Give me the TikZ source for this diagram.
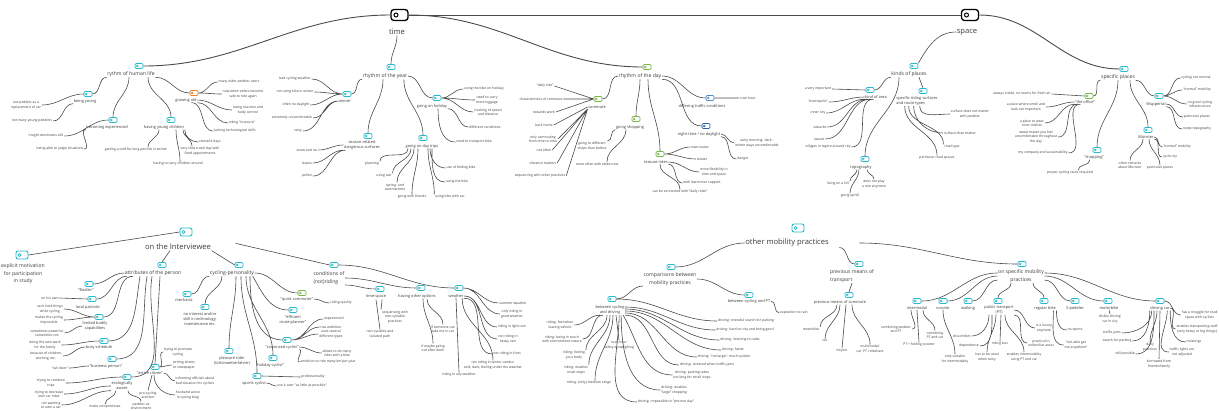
\documentclass[tikz,border=0pt]{standalone}
\usepackage{fontspec}
\setmainfont{Open Sans}
\definecolor{tcyan}{HTML}{27B9CD}
\definecolor{tgreen}{HTML}{7AB648}
\definecolor{torange}{HTML}{E9822F}
\definecolor{tblue}{HTML}{4E8AC6}
\definecolor{tnavy}{HTML}{2C64A8}
\definecolor{linkc}{HTML}{4A4A4A}
\definecolor{txt}{HTML}{3C3C3C}
\tikzset{
  main/.style={font=\fontsize{7.6}{9}\selectfont, text=txt, inner sep=0.5pt},
  topic/.style={font=\fontsize{5.1}{7.5}\selectfont, text=txt, align=center, inner sep=0.5pt},
  sub/.style={font=\fontsize{3.9}{5}\selectfont, text=txt, align=center, inner sep=0.5pt},
  leaf/.style={font=\fontsize{3.4}{4.4}\selectfont, text=txt, align=center, inner sep=0.8pt},
  tag/.style={draw=#1, fill=white, line width=0.7pt, rounded corners=1.2pt, minimum width=8pt, minimum height=5pt, inner sep=0pt,
    path picture={\draw[#1, line width=0.5pt] ([xshift=2.3pt]path picture bounding box.west) circle (1pt);}},
  tag/.default=tcyan,
  bigtag/.style={draw=tcyan, fill=white, line width=0.9pt, rounded corners=2pt, minimum width=12pt, minimum height=8pt, inner sep=0pt,
    path picture={\draw[tcyan, line width=0.6pt] ([xshift=3.6pt]path picture bounding box.west) circle (1.5pt);}},
  toptag/.style={draw=black, fill=white, line width=1.3pt, rounded corners=3pt, minimum width=17pt, minimum height=11pt, inner sep=0pt,
    path picture={\draw[black, line width=1pt] ([xshift=5pt]path picture bounding box.west) circle (2pt);}},
  link/.style={draw=linkc, line width=0.6pt},
  trunk/.style={draw=linkc, line width=0.9pt},
  hl/.style={out=180, in=0},
  hr/.style={out=0, in=180},
  vd/.style={out=-90, in=90},
  dl/.style={out=-90, in=0},
  dr/.style={out=-90, in=180}
}
\begin{document}
\begin{tikzpicture}[x=1pt,y=1pt]
\useasboundingbox[fill=white] (0,0) rectangle (1219,-410);

% time and space
\node[toptag] (time) at (399.5,-15) {};
\node[main] (timel) at (397,-32) {time};
\node[toptag] (space) at (970,-15) {};
\node[main] (spacel) at (967,-32) {space};
\draw[trunk] (time.east) -- (space.west);

% rythm of human life
\node[tag] (hum) at (139,-66) {};
\node[topic] (huml) at (131,-74) {rythm of human life};
\node[tag] (young) at (88,-94) {};
\node[sub] (youngl) at (85,-101) {being young};
\node[leaf] (ya) at (26,-105) {use pedelec as a\\replacement of car};
\node[leaf] (yb) at (32,-121) {not many young pedelers};
\node[tag] (exper) at (113,-120) {};
\node[sub] (experl) at (107,-127) {becoming experienced};
\node[leaf] (ea) at (46,-136) {insight dominates still};
\node[leaf] (eb) at (60,-149) {being able to judge situations};
\node[tag] (kids) at (171,-120) {};
\node[sub] (kidsl) at (164,-127) {having young children};
\node[leaf] (ka) at (136,-150) {getting a cold for long periods in winter};
\node[leaf] (kb) at (178,-164) {having to carry children around};
\node[leaf] (kc) at (200,-151) {very slow travel day with\\fixed appointments};
\node[leaf] (kd) at (210,-142) {stressful days};
\node[tag=torange] (old) at (194,-93) {};
\node[sub] (oldl) at (186,-100) {growing old};
\node[leaf] (oa) at (239,-82) {many older pedelec users};
\node[leaf] (ob) at (243,-94) {now when elders become\\safe to ride again};
\node[leaf] (oc) at (248,-110) {losing reaction and\\body control};
\node[leaf] (od) at (242,-123) {riding "insecure"};
\node[leaf] (oe) at (235,-131) {lacking technological skills};
\draw[trunk] (time.west) to[hl] (hum.east);
\draw[link] (huml.south west) to[hl] (young.east)
  ([xshift=-2pt]huml.south) to[vd] (exper.north)
  ([xshift=17pt]huml.south) to[vd] (kids.north)
  (huml.south east) to[hr] (old.west);
\draw[link] (young.west) to[hl] (ya.east) (youngl.south west) to[hl] (yb.east)
  (exper.west) to[hl] (ea.east) (experl.south west) to[hl] (eb.east)
  ([xshift=-5pt]kidsl.south) to[vd] ([xshift=12pt]ka.north)
  ([xshift=12pt]kidsl.south) to[vd] ([xshift=2pt]kb.north)
  ([xshift=19pt]kidsl.south) to[vd] ([xshift=-8pt]kc.north)
  (kidsl.south east) to[dr] (kd.west);
\draw[link] (old.east) to[hr] (oa.west) (old.east) to[hr] (ob.west)
  (oldl.east) to[hr] (oc.west) (oldl.south east) to[hr] (od.west)
  ([xshift=-6pt]oldl.south east) to[hr] (oe.west);

% rhythm of the year
\node[tag] (year) at (391,-67) {};
\node[topic] (yearl) at (385,-76) {rhythm of the year};
\node[tag] (winter) at (347,-94) {};
\node[sub] (winterl) at (345,-101) {winter};
\node[leaf] (wa) at (295,-79) {bad cycling weather};
\node[leaf] (wb) at (295,-92) {not using bike in winter};
\node[leaf] (wc) at (296,-105) {often no daylight};
\node[leaf] (wd) at (292,-118) {extremely uncomfortable};
\node[leaf] (we) at (298,-131) {rainy};
\node[tag] (season) at (368,-136) {};
\node[sub] (seasonl) at (362,-145) {season-related\\dangerous surfaces};
\node[leaf] (sa) at (307,-150) {snow and ice};
\node[leaf] (sb) at (307,-163) {leaves};
\node[leaf] (sc) at (307,-176) {pollen};
\node[tag] (trips) at (423,-138) {};
\node[sub] (tripsl) at (422,-146) {going on day trips};
\node[leaf] (ta) at (372,-164) {planning};
\node[leaf] (tb) at (384,-176) {using taxi};
\node[leaf] (tc) at (395,-187) {spring- and\\summertime};
\node[leaf] (td) at (412,-197) {going with friends};
\node[leaf] (te) at (461,-168) {use of folding bike};
\node[leaf] (tf) at (457,-182) {using the bike};
\node[leaf] (tg) at (450,-197) {using bike with car};
\node[tag] (holi) at (437,-98) {};
\node[sub] (holil) at (432,-106) {going on holiday};
\node[leaf] (ha) at (484,-89) {using the bike on holiday};
\node[leaf] (hb) at (487,-100) {need to carry\\more luggage};
\node[leaf] (hc) at (488,-112) {tracking of speed\\and distance};
\node[leaf] (hd) at (485,-127) {different conditions};
\node[leaf] (he) at (474,-142) {need to transport bike};
\draw[link] (timel.south) to[vd] (year.north);
\draw[link] (yearl.south west) to[hl] (winter.east)
  ([xshift=-2pt]yearl.south) to[vd] (season.north)
  ([xshift=-4pt]yearl.south east) to[vd] (trips.north)
  (yearl.east) to[hr] (holi.west);
\draw[link] (winter.west) to[hl] (wa.east) (winter.west) to[hl] (wb.east)
  (winter.west) to[hl] (wc.east) (winterl.west) to[hl] (wd.east) (winterl.west) to[hl] (we.east);
\draw[link] (seasonl.west) to[hl] (sa.east) (seasonl.south west) to[hl] (sb.east)
  ([xshift=2pt]seasonl.south west) to[hl] (sc.east);
\draw[link] ([xshift=-14pt]tripsl.south) to[vd] (ta.north east)
  ([xshift=-11pt]tripsl.south) to[vd] (tb.north east)
  ([xshift=-8pt]tripsl.south) to[vd] ([xshift=2pt]tc.north)
  ([xshift=-4pt]tripsl.south) to[vd] (td.north)
  ([xshift=8pt]tripsl.south) to[dr] (te.west)
  ([xshift=10pt]tripsl.south) to[dr] (tf.west)
  ([xshift=6pt]tripsl.south) to[vd] (tg.north west);
\draw[link] (holi.east) to[hr] (ha.west) (holi.east) to[hr] (hb.west)
  (holi.east) to[hr] (hc.west) (holil.south east) to[hr] (hd.west)
  ([xshift=6pt]holil.south) to[dr] (he.west);

% rhythm of the day
\node[tag=tgreen] (day) at (647,-67) {};
\node[topic] (dayl) at (640,-76) {rhythm of the day};
\node[tag=tgreen] (comm) at (598,-99) {};
\node[sub] (comml) at (597,-107) {commute};
\node[leaf] (ma) at (545,-86) {"daily ride"};
\node[leaf] (mb) at (541,-99) {characteristics of commute};
\node[leaf] (mc) at (544,-112) {towards work};
\node[leaf] (md) at (544,-125) {back home};
\node[leaf] (me) at (543,-139) {only commuting\\from time to time};
\node[leaf] (mf) at (544,-150) {not often};
\node[leaf] (mg) at (543,-163) {distance matters};
\node[leaf] (mh) at (540,-176) {sequencing with other practices};
\node[tag=tgreen] (shop) at (636,-119) {};
\node[sub] (shopl) at (630,-127) {going shopping};
\node[leaf] (pa) at (592,-146) {going to different\\shops than before};
\node[leaf] (pb) at (597,-164) {more often with ebike now};
\node[tag=tgreen] (leis) at (660,-154) {};
\node[sub] (leisl) at (656,-162) {leasure rides};
\node[leaf] (la) at (700,-147) {new routes};
\node[leaf] (lb) at (702,-159) {slower};
\node[leaf] (lc) at (714,-172) {more flexibility in\\time and space};
\node[leaf] (ld) at (702,-183) {with low motor support};
\node[leaf] (le) at (680,-192) {can be connected with "daily rides"};
\node[tag=tblue] (traf) at (710,-98) {};
\node[sub] (trafl) at (702,-106) {differing traffic conditions};
\node[leaf] (tra) at (748,-98) {rush hour};
\node[tag=tnavy] (night) at (706,-126) {};
\node[sub] (nightl) at (699,-134) {night-time / no daylight};
\node[leaf] (na) at (757,-143) {early morning: dark -\\winter ways uncomfortable};
\node[leaf] (nb) at (743,-159) {danger};
\draw[trunk] (time.east) to[hr] (day.west);
\draw[link] (dayl.west) to[hl] (comm.east)
  (dayl.south) to[vd] (shop.north)
  ([xshift=8pt]dayl.south) to[vd] (leis.north)
  (dayl.south east) to[hr] (night.west)
  (dayl.east) to[hr] (traf.west);
\draw[link] (comm.west) -- (ma.east) (comm.west) -- (mb.east) (comm.west) -- (mc.east)
  (comml.west) -- (md.east) (comml.south west) -- (me.east) (comml.south west) -- (mf.east)
  (comml.south west) -- (mg.east) (comml.south west) -- (mh.east);
\draw[link] (shopl.south west) to[hl] (pa.north east)
  ([xshift=-4pt]shopl.south) to[vd] ([xshift=10pt]pb.north);
\draw[link] (leis.east) to[hr] (la.west) (leis.east) to[hr] (lb.west)
  (leisl.east) to[hr] (lc.west) (leisl.south east) to[hr] (ld.west)
  ([xshift=4pt]leisl.south) to[vd] (le.north);
\draw[link] (traf.east) -- (tra.west)
  (nightl.east) to[hr] (na.west) (nightl.south east) to[hr] (nb.west);

% space: kinds of places
\node[tag] (kinds) at (914,-66) {};
\node[topic] (kindsl) at (909,-74) {kinds of places};
\node[tag] (area) at (870,-90) {};
\node[sub] (areal) at (876,-97) {kind of area};
\node[leaf] (aa) at (818,-89) {a very important};
\node[leaf] (ab) at (818,-102) {"metropolis"};
\node[leaf] (ac) at (818,-113) {inner city};
\node[leaf] (ad) at (820,-127) {suburbs};
\node[leaf] (ae) at (819,-139) {nature};
\node[leaf] (af) at (828,-147) {villages in region around city};
\node[tag] (route) at (923,-91) {};
\node[sub,align=left] (routel) at (917,-101) {specific riding surfaces\\and route types};
\node[leaf] (rta) at (970,-114) {surface does not matter\\with pedelec};
\node[leaf] (rtb) at (960,-133) {surface does matter};
\node[leaf] (rtc) at (952,-147) {road type};
\node[leaf] (rtd) at (937,-158) {particular road spaces};
\node[tag] (topo) at (865,-159) {};
\node[sub] (topol) at (861,-167) {topography};
\node[leaf] (ga) at (838,-184) {living on a hill};
\node[leaf] (gb) at (850,-196) {going uphill};
\node[leaf] (gc) at (874,-184) {does not play\\a role anymore};
\draw[link] (spacel.west) to[out=180,in=60] (kinds.north east);
\draw[link] (kindsl.south west) to[hl] (area.east)
  ([xshift=10pt]kindsl.south) -- (route.north)
  ([xshift=-10pt]kindsl.south) to[vd] (topo.north);
\draw[link] (area.west) -- (aa.east) (areal.west) to[hl] (ab.east)
  (areal.south west) to[hl] (ac.east) ([xshift=3pt]areal.south west) to[hl] (ad.east)
  ([xshift=6pt]areal.south west) to[hl] (ae.east) ([xshift=9pt]areal.south west) to[hl] (af.east);
\draw[link] ([xshift=24pt]routel.south west) to[dr] (rta.west)
  ([xshift=18pt]routel.south west) to[dr] (rtb.west)
  ([xshift=13pt]routel.south west) to[vd] (rtc.north west)
  ([xshift=9pt]routel.south west) to[vd] (rtd.north);
\draw[link] ([xshift=-4pt]topol.south) to[vd] (ga.north east)
  ([xshift=-2pt]topol.south) to[vd] (gb.north)
  ([xshift=6pt]topol.south) to[vd] (gc.north);

% space: specific places
\node[tag] (splace) at (1124,-69) {};
\node[topic] (splacel) at (1118,-77) {specific places};
\node[tag=tgreen] (office) at (1089,-96) {};
\node[sub] (officel) at (1085,-102) {"the office"};
\node[leaf] (fa) at (1022,-94) {always inside, no rooms for fresh air};
\node[leaf] (fb) at (1026,-107) {a place where smell and\\look are important};
\node[leaf] (fc) at (1032,-123) {a place to wear\\nicer clothes};
\node[leaf] (fd) at (1036,-137) {sweat makes you feel\\uncomfortable throughout\\the day};
\node[leaf] (fe) at (1043,-153) {my company and sustainability};
\node[tag] (shp) at (1097,-150) {};
\node[sub] (shpl) at (1094,-157) {"shopping"};
\node[leaf] (sha) at (1070,-173) {proper cycling racks required};
\node[tag] (wup) at (1159,-96) {};
\node[sub] (wupl) at (1156,-104) {Wuppertal};
\node[leaf] (ua) at (1196,-78) {cycling not normal};
\node[leaf] (ub) at (1197,-90) {"normal" mobility};
\node[leaf] (uc) at (1200,-104) {no good cycling\\infrastructure};
\node[leaf] (ud) at (1197,-117) {particular places};
\node[leaf] (ue) at (1197,-129) {steep topography};
\node[tag] (mun) at (1148,-130) {};
\node[sub] (munl) at (1146,-137) {Münster};
\node[leaf] (va) at (1177,-147) {"normal" mobility};
\node[leaf] (vb) at (1170,-157) {cycle city};
\node[leaf] (vc) at (1160,-168) {particular places};
\node[leaf] (vd) at (1130,-165) {other remarks\\about Münster};
\draw[trunk] (space.east) to[hr] (splace.west);
\draw[link] (splacel.south west) to[hl] (office.east)
  (splacel.south) to[vd] (shp.north)
  ([xshift=12pt]splacel.south) to[vd] (mun.north)
  (splacel.south east) to[hr] (wup.west);
\draw[link] (office.west) -- (fa.east) (officel.west) to[hl] (fb.east)
  (officel.south west) to[hl] (fc.east) ([xshift=3pt]officel.south west) to[hl] (fd.east)
  ([xshift=6pt]officel.south west) to[hl] (fe.east);
\draw[link] ([xshift=-4pt]shpl.south) to[vd] ([xshift=8pt]sha.north);
\draw[link] (wup.east) to[hr] (ua.west) (wup.east) to[hr] (ub.west)
  (wup.east) to[hr] (uc.west) (wupl.east) to[hr] (ud.west) (wupl.south east) to[hr] (ue.west);
\draw[link] (munl.east) to[hr] (va.west) (munl.south east) to[hr] (vb.west)
  ([xshift=3pt]munl.south) to[vd] (vc.north) ([xshift=-3pt]munl.south) to[vd] (vd.north);

% on the Interviewee
\node[bigtag] (inter) at (186,-232) {};
\node[main] (interl) at (178,-247) {on the Interviewee};
\node[bigtag] (expl) at (22,-255) {};
\node[topic] (expll) at (23,-274) {explicit motivation\\for participation\\in study};
\node[tag] (attr) at (162,-265) {};
\node[topic] (attrl) at (153,-273) {attributes of the person};
\node[tag] (bast) at (89,-284) {};
\node[sub] (bastl) at (86,-290) {"Bastler"};
\node[tag] (local) at (92,-299) {};
\node[sub] (locall) at (88,-307) {local patriotic};
\node[leaf] (loa) at (50,-298) {on his own};
\node[tag] (limit) at (99,-317) {};
\node[sub] (limitl) at (95,-326) {limited bodily\\capabilities};
\node[leaf] (lma) at (50,-309) {can't hold things\\while cycling};
\node[leaf] (lmb) at (49,-320) {makes the cycling\\impossible};
\node[leaf] (lmc) at (47,-333) {sometimes powerful,\\sometimes not};
\node[tag] (busy) at (104,-341) {};
\node[sub] (busyl) at (99,-347) {busy schedule};
\node[leaf] (bua) at (45,-345) {doing the own work\\for the family};
\node[leaf] (bub) at (46,-356) {because of children,\\working, etc.};
\node[tag] (busi) at (112,-359) {};
\node[sub] (busil) at (106,-366) {"business person"};
\node[leaf] (bia) at (60,-368) {"evil doer"};
\node[tag] (eco) at (127,-377) {};
\node[sub] (ecol) at (122,-386) {ecologically\\aware};
\node[leaf] (eca) at (51,-383) {trying to combine\\trips};
\node[leaf] (ecb) at (49,-394) {trying to decrease\\own car rides};
\node[leaf] (ecc) at (51,-405) {not wanting\\to own a car};
\node[leaf] (ecd) at (105,-407) {make compromises};
\node[leaf] (ece) at (141,-406) {pedelec as\\environment};
\node[tag] (act) at (155,-367) {};
\node[sub] (actl) at (150,-373) {"active citizen"};
\node[leaf] (aca) at (178,-352) {trying to promote\\cycling};
\node[leaf] (acb) at (184,-365) {writing letters\\to newspaper};
\node[leaf] (acc) at (195,-381) {informing officials about\\bad situation for cyclists};
\node[leaf] (acd) at (188,-395) {husband active\\in cycling blog};
\node[leaf] (ace) at (148,-395) {pro-cycling\\activism};
\draw[link] (inter.west) -- (expl.east)
  ([xshift=-8pt]interl.south) -- (attr.north);
\draw[link] (attrl.west) to[hl] (bast.east)
  ([xshift=3pt]attrl.south west) to[hl] (local.east)
  ([xshift=9pt]attrl.south west) to[hl] (limit.east)
  ([xshift=16pt]attrl.south west) to[out=-100,in=0] (busy.east)
  ([xshift=23pt]attrl.south west) to[out=-100,in=0] (busi.east)
  ([xshift=28pt]attrl.south west) to[out=-100,in=0] (eco.east)
  ([xshift=7pt]attrl.south) -- (act.north);
\draw[link] (local.west) -- (loa.east)
  (limit.west) to[hl] (lma.east) (limit.west) to[hl] (lmb.east) (limitl.west) to[hl] (lmc.east)
  (busy.west) to[hl] (bua.east) (busyl.west) to[hl] (bub.east)
  (busil.west) to[hl] (bia.east)
  (eco.west) to[hl] (eca.east) (ecol.west) to[hl] (ecb.east) (ecol.south west) to[hl] (ecc.east)
  ([xshift=-6pt]ecol.south) to[vd] (ecd.north) ([xshift=6pt]ecol.south) to[vd] (ece.north);
\draw[link] (act.east) to[hr] (aca.west) (act.east) to[hr] (acb.west)
  (actl.east) to[hr] (acc.west) ([xshift=4pt]actl.south) to[dr] (acd.west)
  ([xshift=2pt]actl.south) -- (ace.north);

% cycling-personality
\node[tag] (cyc) at (239,-265) {};
\node[topic] (cycl) at (232,-273) {cycling-personality};
\node[tag] (mech) at (187,-294) {};
\node[sub] (mechl) at (184,-300) {mechanic};
\node[tag] (noint) at (205,-307) {};
\node[sub] (nointl) at (200,-319) {no interest and/or\\skill in technology,\\maintenance etc.};
\node[tag] (pleas) at (229,-351) {};
\node[sub] (pleasl) at (232,-361) {pleasure rider\\(Schönwetterfahrer)};
\node[tag] (sport) at (257,-376) {};
\node[sub] (sportl) at (254,-383) {sports cyclist};
\node[leaf] (spa) at (313,-377) {professionality};
\node[leaf] (spb) at (302,-386) {use it over "as little as possible"};
\node[tag] (holc) at (273,-358) {};
\node[sub] (holcl) at (270,-365) {"holiday cyclist"};
\node[tag] (conv) at (287,-340) {};
\node[sub] (convl) at (282,-347) {"convinced cyclist"};
\node[leaf] (cva) at (334,-319) {experienced};
\node[leaf] (cvb) at (331,-327) {has ambition};
\node[leaf] (cvc) at (331,-334) {uses several\\different types};
\node[leaf] (cvd) at (337,-353) {allows to do many\\rides with a bike};
\node[leaf] (cve) at (328,-362) {ambition to ride many km per year};
\node[tag] (effi) at (293,-310) {};
\node[sub] (effil) at (293,-320) {"efficient\\route-planner"};
\node[tag=tgreen] (quick) at (302,-293) {};
\node[sub] (quickl) at (297,-299) {"quick commuter"};
\node[leaf] (qa) at (341,-303) {riding quickly};
\draw[link] (interl.south east) -- (cyc.west);
\draw[link] (cycl.south west) to[hl] (mech.east)
  ([xshift=-10pt]cycl.south) to[vd] (noint.north)
  ([xshift=4pt]cycl.south) to[vd] (pleas.north)
  ([xshift=9pt]cycl.south) to[vd] (sport.north)
  ([xshift=14pt]cycl.south) to[vd] (holc.north)
  ([xshift=18pt]cycl.south) to[dr] (conv.west)
  ([xshift=-2pt]cycl.south east) to[out=-60,in=180] (effi.west)
  (cycl.east) to[hr] (quick.west);
\draw[link] (sport.east) -- (spa.west) (sportl.east) to[hr] (spb.west)
  (conv.east) to[hr] (cva.west) (conv.east) to[hr] (cvb.west) (conv.east) to[hr] (cvc.west)
  (convl.east) to[hr] (cvd.west) (convl.south east) to[hr] (cve.west)
  (quickl.east) to[hr] (qa.west);

% conditions of (not)riding
\node[tag] (cond) at (334,-265) {};
\node[topic,align=left] (condl) at (329,-278) {conditions of\\(not)riding};
\node[tag] (tsp) at (380,-289) {};
\node[sub] (tspl) at (376,-297) {time-space};
\node[leaf] (tsa) at (395,-317) {sequencing with\\non-cyclable\\practices};
\node[leaf] (tsb) at (380,-334) {non-cyclable and\\isolated path};
\node[tag] (opt) at (421,-288) {};
\node[sub] (optl) at (417,-296) {having other options};
\node[leaf] (opa) at (443,-329) {if someone can\\take me in car};
\node[leaf] (opb) at (433,-348) {if maybe going\\out after work};
\node[tag] (wea) at (459,-288) {};
\node[sub] (weal) at (456,-296) {weather};
\node[leaf] (xa) at (513,-303) {summer weather};
\node[leaf] (xb) at (512,-314) {only riding in\\good weather};
\node[leaf] (xc) at (512,-327) {riding in light rain};
\node[leaf] (xd) at (508,-339) {not riding in\\heavy rain};
\node[leaf] (xe) at (507,-354) {not riding in frost};
\node[leaf] (xf) at (493,-365) {not riding in winter combo:\\cold, dark, feeling under the weather};
\node[leaf] (xg) at (459,-375) {riding in any weather};
\draw[link] ([xshift=24pt]interl.north east) -- (cond.west);
\draw[link] (condl.south east) to[hr] (tsp.west)
  (condl.east) to[hr] (opt.west)
  (cond.east) to[hr] (wea.west);
\draw[link] ([xshift=6pt]tspl.south) to[vd] (tsa.north west) (tspl.south) -- (tsb.north)
  ([xshift=10pt]optl.south) to[vd] (opa.north) ([xshift=6pt]optl.south) to[vd] (opb.north);
\draw[link] (wea.east) to[hr] (xa.west) (wea.east) to[hr] (xb.west)
  (weal.east) to[hr] (xc.west) (weal.east) to[hr] (xd.west)
  (weal.south east) to[hr] (xe.west) ([xshift=-2pt]weal.south east) to[vd] (xf.north)
  (weal.south) -- (xg.north);

% other mobility practices
\node[bigtag] (omp) at (798,-228) {};
\node[main] (ompl) at (787,-243) {other mobility practices};
\node[tag] (comp) at (671,-267) {};
\node[topic] (compl) at (670,-279) {comparisons between\\mobility practices};
\node[tag] (cdr) at (612,-299) {};
\node[sub] (cdrl) at (610,-310) {between cycling\\and driving};
\node[leaf] (da) at (746,-321) {driving: stressful search for parking};
\node[leaf] (db) at (745,-330) {driving: hard on city and being good};
\node[leaf] (dc) at (740,-340) {driving: listening to radio};
\node[leaf] (dd) at (733,-350) {driving: faster};
\node[leaf] (de) at (724,-357) {driving: "recharge": much quicker};
\node[leaf] (df) at (707,-365) {driving: stressed when traffic jams};
\node[leaf] (dg) at (692,-375) {driving: parking takes\\too long for small stops};
\node[leaf] (dh) at (674,-390) {driving: enables\\"large" shopping};
\node[leaf] (di) at (666,-402) {driving: impossible to "process day"};
\node[leaf] (rda) at (560,-325) {riding: feel when\\leaving vehicle};
\node[leaf] (rdb) at (562,-339) {riding: being in touch\\with environment nature};
\node[leaf] (rdc) at (574,-355) {riding: feeling\\your body};
\node[leaf] (rdd) at (576,-370) {riding: enables\\small stops};
\node[leaf] (rde) at (589,-383) {riding: (only) medium range};
\node[leaf] (rsh) at (619,-345) {rush-hour\\safety outweighing};
\node[tag] (cpt) at (749,-295) {};
\node[sub] (cptl) at (749,-301) {between cycling and PT};
\node[leaf] (cpa) at (794,-313) {exposition to rain};
\node[tag] (prev) at (859,-264) {};
\node[topic,align=left] (prevl) at (852,-276) {previous means of\\transport};
\node[tag] (prevc) at (849,-295) {};
\node[sub] (prevcl) at (840,-302) {previous means of commute};
\node[leaf] (pva) at (811,-329) {motorbike};
\node[leaf] (pvb) at (825,-341) {car};
\node[leaf] (pvc) at (842,-351) {bicycle};
\node[leaf] (pvd) at (870,-349) {multimodal:\\car, PT, rideshare};
\draw[link] (ompl.west) to[hl] (comp.east)
  ([xshift=10pt]ompl.south east) to[hr] (prev.west);
\draw[link] (compl.south west) to[hl] (cdr.east)
  (compl.east) to[hr] (cpt.west)
  (cptl.east) to[hr] (cpa.west);
\draw[link] (cdr.east) to[hr] (da.west)
  ([yshift=3pt]cdrl.east) to[hr] (db.west) ([yshift=1pt]cdrl.east) to[hr] (dc.west)
  ([yshift=-1pt]cdrl.east) to[hr] (dd.west) ([yshift=-3pt]cdrl.east) to[hr] (de.west)
  (cdrl.south east) to[hr] (df.west) ([xshift=-2pt]cdrl.south east) to[out=-60,in=180] (dg.west)
  ([xshift=-4pt]cdrl.south east) to[dr] (dh.west) ([xshift=-6pt]cdrl.south east) to[dr] (di.west);
\draw[link] ([xshift=-10pt]cdrl.south) to[hl] (rda.east)
  ([xshift=-7pt]cdrl.south) to[hl] (rdb.east)
  ([xshift=-3pt]cdrl.south) to[vd] (rdc.north east)
  (cdrl.south) to[vd] (rdd.north east)
  ([xshift=3pt]cdrl.south) to[vd] ([xshift=6pt]rde.north)
  ([xshift=6pt]cdrl.south) -- (rsh.north);
\draw[link] (prevl.south) -- (prevc.north)
  ([xshift=-3pt]prevcl.south) to[vd] (pva.north east)
  ([xshift=0pt]prevcl.south) to[vd] (pvb.north)
  ([xshift=6pt]prevcl.south) -- (pvc.north)
  ([xshift=12pt]prevcl.south) to[vd] (pvd.north);

% on specific mobility practices
\node[tag] (onsp) at (1022,-264) {};
\node[topic] (onspl) at (1021,-276) {on specific mobility\\practices};
\node[tag] (inm) at (917,-301) {};
\node[sub] (inml) at (917,-308) {intermodal};
\node[leaf] (ima) at (896,-329) {combining pedelec\\and PT};
\node[leaf] (imb) at (919,-345) {PT + folding scooter};
\node[leaf] (imc) at (935,-335) {combining\\PT and car};
\node[tag] (sco) at (943,-301) {};
\node[sub] (scol) at (943,-308) {scooter};
\node[leaf] (sca) at (955,-359) {only suitable\\for intermodality};
\node[tag] (walk) at (968,-301) {};
\node[sub] (walkl) at (968,-308) {walking};
\node[tag] (pt) at (998,-301) {};
\node[sub] (ptl) at (999,-310) {public transport\\(PT)};
\node[leaf] (pta) at (962,-336) {discomfort};
\node[leaf] (ptb) at (969,-346) {dependence};
\node[leaf] (ptc) at (987,-357) {has to be used\\when rainy};
\node[leaf] (ptd) at (1000,-344) {riding bus};
\node[leaf] (pte) at (1024,-357) {enables intermodality\\using PT and car};
\node[leaf] (ptf) at (1044,-328) {is a luxury\\anymore};
\node[leaf] (ptg) at (1041,-343) {practical in\\unfamiliar areas};
\node[tag] (reg) at (1044,-301) {};
\node[sub] (regl) at (1045,-308) {regular bike};
\node[leaf] (rga) at (1075,-330) {no sports};
\node[leaf] (rgb) at (1076,-345) {"not able get\\me anywhere"};
\node[tag] (spd) at (1075,-301) {};
\node[sub] (spdl) at (1075,-308) {S-pedelec};
\node[tag] (mot) at (1108,-301) {};
\node[sub] (motl) at (1109,-308) {motorbike};
\node[leaf] (moa) at (1110,-319) {dislike driving\\car in city};
\node[tag] (car) at (1160,-301) {};
\node[sub] (carl) at (1160,-308) {driving car};
\node[leaf,anchor=east] (cra) at (1218.5,-315) {has a struggle for road\\space with cyclists};
\node[leaf,anchor=east] (crb) at (1218.5,-329) {enables transporting stuff\\(very heavy or big things)};
\node[leaf] (crc) at (1194,-342) {meetings};
\node[leaf] (crd) at (1182,-352) {traffic lights are\\not adjusted};
\node[leaf] (cre) at (1159,-364) {borrowed from\\friends/family};
\node[leaf] (crf) at (1150,-347) {daily\\practices};
\node[leaf] (crg) at (1125,-354) {still possible};
\node[leaf] (crh) at (1117,-341) {search for parking};
\node[leaf] (cri) at (1112,-333) {traffic jams};
\draw[link] ([xshift=30pt]ompl.east) to[hr] (onsp.west);
\draw[link] ([yshift=3pt]onspl.west) to[hl] (inm.east)
  (onspl.west) to[hl] (sco.east)
  ([yshift=-4pt]onspl.west) to[hl] (walk.east)
  ([xshift=-10pt]onspl.south) to[vd] (pt.north)
  ([xshift=12pt]onspl.south) to[vd] (reg.north)
  ([yshift=-4pt]onspl.east) to[hr] (spd.west)
  (onspl.east) to[hr] (mot.west)
  ([yshift=3pt]onspl.east) to[hr] (car.west);
\draw[link] ([xshift=-6pt]inml.south) to[dl] (ima.east) (inml.south) -- (imb.north)
  ([xshift=6pt]inml.south) to[vd] (imc.north)
  (scol.south) to[vd] (sca.north);
\draw[link] ([xshift=-10pt]ptl.south) to[dl] (pta.east) ([xshift=-7pt]ptl.south) to[dl] (ptb.east)
  ([xshift=-3pt]ptl.south) to[vd] (ptc.north) ([xshift=2pt]ptl.south) -- (ptd.north)
  ([xshift=6pt]ptl.south) to[vd] (pte.north)
  (ptl.east) to[hr] (ptf.west) (ptl.south east) to[hr] (ptg.west);
\draw[link] (regl.south east) to[dr] (rga.west) ([xshift=-3pt]regl.south east) to[dr] (rgb.west)
  (motl.south) -- (moa.north);
\draw[link] (car.east) to[hr] (cra.west) (carl.east) to[hr] (crb.west)
  (carl.south east) to[dr] (crc.west) ([xshift=-3pt]carl.south east) to[dr] (crd.west)
  (carl.south) -- (cre.north) ([xshift=-3pt]carl.south) to[vd] (crf.north)
  ([xshift=-6pt]carl.south) to[dl] (crg.east) (carl.south west) to[dl] (crh.east)
  ([xshift=2pt]carl.south west) to[dl] (cri.east);
\end{tikzpicture}
\end{document}
